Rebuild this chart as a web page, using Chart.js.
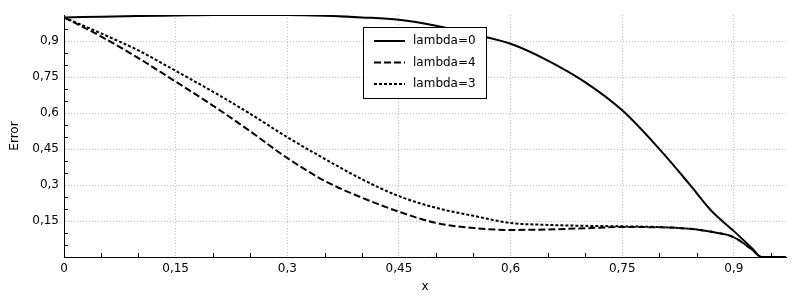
<!DOCTYPE html>
<html>
<head>
<meta charset="utf-8">
<script src="https://cdn.jsdelivr.net/npm/chart.js@4"></script>
<style>
  html, body { margin: 0; padding: 0; background: #fff; }
  #wrap { width: 800px; height: 300px; }
</style>
</head>
<body>
<div id="wrap"><canvas id="chart"></canvas></div>
<script>
// ── Data ─────────────────────────────────────────────────────────────────────
const xValues  = [0, 0.05, 0.1, 0.15, 0.2, 0.25, 0.3, 0.35, 0.4, 0.45, 0.5, 0.55, 0.6, 0.65, 0.7, 0.75, 0.8, 0.84, 0.87, 0.9, 0.925, 0.937, 0.97];
const lambda0  = [1.0, 1.003, 1.006, 1.008, 1.01, 1.01, 1.01, 1.007, 1.0, 0.99, 0.965, 0.93, 0.89, 0.82, 0.73, 0.612, 0.45, 0.305, 0.192, 0.108, 0.035, 0, 0];
const lambda4  = [1.0, 0.92, 0.83, 0.732, 0.632, 0.525, 0.413, 0.318, 0.248, 0.189, 0.142, 0.121, 0.113, 0.115, 0.12, 0.125, 0.124, 0.118, 0.105, 0.082, 0.029, 0, 0];
const lambda3  = [1.0, 0.933, 0.862, 0.777, 0.69, 0.598, 0.50, 0.41, 0.325, 0.254, 0.205, 0.172, 0.142, 0.134, 0.13, 0.128, 0.125, 0.118, 0.105, 0.082, 0.029, 0, 0];
const seriesLabels = ['lambda=0', 'lambda=4', 'lambda=3'];
const tickStep  = 0.15;
const minorStep = 0.05;

const FONT = { family: "'DejaVu Sans', sans-serif", size: 12 };

const toPoints = ys => xValues.map((x, i) => ({ x, y: ys[i] }));
const fmt = v => String(+v.toFixed(2)).replace('.', ',');
const onStep = v => Math.abs(v / tickStep - Math.round(v / tickStep)) < 1e-6;

// inward minor ticks every 0.05 on both axes
const minorTicks = {
  id: 'minorTicks',
  afterDraw(chart) {
    const { ctx, chartArea: a, scales: { x, y } } = chart;
    ctx.save();
    ctx.strokeStyle = '#000';
    ctx.lineWidth = 1;
    ctx.beginPath();
    for (let v = minorStep; v < x.max + 1e-9; v += minorStep) {
      if (onStep(v)) continue;
      const px = Math.round(x.getPixelForValue(v)) + 0.5;
      ctx.moveTo(px, a.bottom);
      ctx.lineTo(px, a.bottom - 4);
    }
    for (let v = minorStep; v < y.max + 1e-9; v += minorStep) {
      if (onStep(v)) continue;
      const py = Math.round(y.getPixelForValue(v)) + 0.5;
      ctx.moveTo(a.left, py);
      ctx.lineTo(a.left + 4, py);
    }
    ctx.stroke();
    ctx.restore();
  }
};

// boxed legend inside the plot
const boxLegend = {
  id: 'boxLegend',
  afterDraw(chart) {
    const { ctx } = chart;
    const bx = 363.5, by = 27.5, bw = 123, bh = 71;
    ctx.save();
    ctx.fillStyle = '#fff';
    ctx.fillRect(bx, by, bw, bh);
    ctx.strokeStyle = '#000';
    ctx.lineWidth = 1;
    ctx.strokeRect(bx, by, bw, bh);
    ctx.font = `${FONT.size}px ${FONT.family}`;
    ctx.textBaseline = 'middle';
    ctx.fillStyle = '#000';
    chart.data.datasets.forEach((ds, i) => {
      const ry = 41 + i * 21.5;
      ctx.beginPath();
      ctx.setLineDash(ds.borderDash || []);
      ctx.lineWidth = ds.borderWidth;
      ctx.moveTo(374, ry);
      ctx.lineTo(405, ry);
      ctx.stroke();
      ctx.setLineDash([]);
      ctx.fillText(ds.label, 413, ry);
    });
    ctx.restore();
  }
};

const lineStyle = (label, ys, dash) => ({
  label,
  data: toPoints(ys),
  borderColor: '#000',
  borderWidth: 2,
  borderDash: dash,
  pointRadius: 0,
  fill: false,
  cubicInterpolationMode: 'monotone',
});

new Chart(document.getElementById('chart'), {
  type: 'line',
  data: {
    datasets: [
      lineStyle(seriesLabels[0], lambda0, []),
      lineStyle(seriesLabels[1], lambda4, [7, 3]),
      lineStyle(seriesLabels[2], lambda3, [3, 2]),
    ],
  },
  options: {
    responsive: true,
    maintainAspectRatio: false,
    animation: false,
    layout: { padding: { top: 15, right: 14, left: 0, bottom: 0 } },
    plugins: { legend: { display: false }, tooltip: { enabled: false } },
    scales: {
      x: {
        type: 'linear',
        min: 0,
        max: 0.97,
        afterBuildTicks: s => { s.ticks = s.ticks.filter(t => onStep(t.value)); },
        afterFit: s => { s.height = 43; },
        ticks: { stepSize: tickStep, color: '#000', font: FONT, padding: 5, maxRotation: 0, callback: v => fmt(v) },
        grid: { color: '#c0c0c0', drawTicks: false, lineWidth: 1 },
        border: { display: true, color: '#000', width: 1, dash: [1, 2] },
        title: { display: true, text: 'x', color: '#000', font: FONT, padding: { top: 0, bottom: 6 } },
      },
      y: {
        type: 'linear',
        min: 0,
        max: 1.01,
        afterBuildTicks: s => { s.ticks = s.ticks.filter(t => onStep(t.value)); },
        afterFit: s => { s.width = 64; },
        ticks: { stepSize: tickStep, color: '#000', font: FONT, padding: 5, callback: v => (v === 0 ? '' : fmt(v)) },
        grid: { color: '#c0c0c0', drawTicks: false, lineWidth: 1 },
        border: { display: true, color: '#000', width: 1, dash: [1, 2] },
        title: { display: true, text: 'Error', color: '#000', font: FONT, padding: { top: 8, bottom: 0 } },
      },
    },
  },
  plugins: [minorTicks, boxLegend],
});
</script>
</body>
</html>
